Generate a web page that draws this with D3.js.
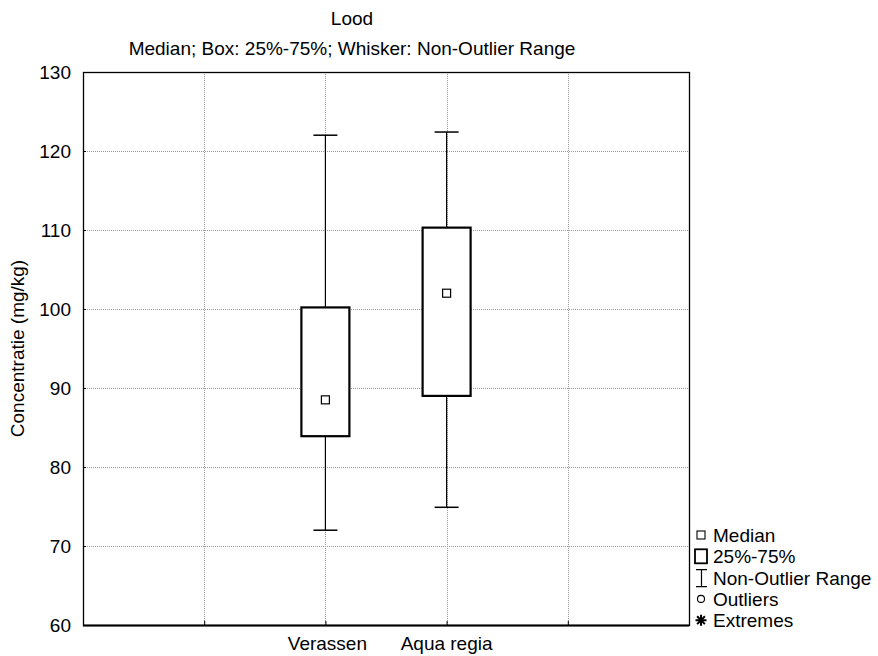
<!DOCTYPE html>
<html>
<head>
<meta charset="utf-8">
<script src="https://cdn.jsdelivr.net/npm/d3@7"></script>
<style>
  body { margin: 0; background: #fff; }
  text { font-family: "Liberation Sans", Arial, sans-serif; fill: #000; }
</style>
</head>
<body>
<div id="main"></div>
<script>
// chart data
const categories = ['Verassen', 'Aqua regia'];
const whiskerLow = [72, 74.9];
const boxLow = [83.9, 89.0];
const medians = [88.5, 102.0];
const boxHigh = [100.2, 110.3];
const whiskerHigh = [122.0, 122.4];
const yTicks = [60, 70, 80, 90, 100, 110, 120, 130];
const legendLabels = ['Median', '25%-75%', 'Non-Outlier Range', 'Outliers', 'Extremes'];

function main() {
  const width = 878, height = 656;
  const margin = { left: 83, right: 189, top: 72, bottom: 31 };
  const fs = '19px';
  const svg = d3.select('#main').append('svg')
    .attr('width', width).attr('height', height);

  const x = d3.scaleLinear().domain([0, 5]).range([margin.left, width - margin.right]);
  const y = d3.scaleLinear().domain([60, 130]).range([height - margin.bottom, margin.top]);
  const xPos = i => x(i + 2);

  // grid lines
  const grid = svg.append('g').attr('stroke', '#999').attr('stroke-width', 1)
    .attr('stroke-dasharray', '1,1');
  grid.selectAll('.hg').data(yTicks.slice(1, -1)).enter().append('line')
    .attr('x1', x(0)).attr('x2', x(5))
    .attr('y1', d => Math.round(y(d)) + 0.5).attr('y2', d => Math.round(y(d)) + 0.5);
  grid.selectAll('.vg').data([1, 2, 3, 4]).enter().append('line')
    .attr('y1', y(60)).attr('y2', y(130))
    .attr('x1', d => Math.round(x(d)) + 0.5).attr('x2', d => Math.round(x(d)) + 0.5);

  // axes
  const yAxis = svg.append('g').attr('transform', `translate(${x(0)},0)`)
    .call(d3.axisLeft(y).tickValues(yTicks).tickSize(-3).tickPadding(12));
  yAxis.select('.domain').remove();
  yAxis.selectAll('text').style('font-size', fs).attr('font-family', null);
  const xAxis = svg.append('g').attr('transform', `translate(0,${y(60)})`)
    .call(d3.axisBottom(x).tickValues([1, 2, 3, 4]).tickSize(-4).tickFormat(''));
  xAxis.select('.domain').remove();

  // frame
  svg.append('rect')
    .attr('x', x(0) + 0.5).attr('y', y(130) + 0.5)
    .attr('width', x(5) - x(0)).attr('height', y(60) - y(130))
    .attr('fill', 'none').attr('stroke', '#000').attr('stroke-width', 1.3);
  svg.append('line').attr('x1', x(0)).attr('x2', x(5))
    .attr('y1', y(60) + 0.5).attr('y2', y(60) + 0.5)
    .attr('stroke', '#000').attr('stroke-width', 2);

  // category labels
  svg.selectAll('.cat').data(categories).enter().append('text')
    .attr('x', (d, i) => xPos(i) + (i === 0 ? 2 : 0)).attr('y', 650)
    .attr('text-anchor', 'middle').style('font-size', fs)
    .text(d => d);

  // boxes
  const boxW = 48, capW = 24, medS = 8;
  const g = svg.append('g');
  categories.forEach((c, i) => {
    const cx = xPos(i);
    g.append('line').attr('x1', cx).attr('x2', cx)
      .attr('y1', y(whiskerLow[i])).attr('y2', y(whiskerHigh[i]))
      .attr('stroke', '#000').attr('stroke-width', 1.2);
    [whiskerLow[i], whiskerHigh[i]].forEach(v => {
      g.append('line').attr('x1', cx - capW / 2).attr('x2', cx + capW / 2)
        .attr('y1', y(v)).attr('y2', y(v))
        .attr('stroke', '#000').attr('stroke-width', 1.5);
    });
    g.append('rect').attr('x', cx - boxW / 2).attr('y', y(boxHigh[i]))
      .attr('width', boxW).attr('height', y(boxLow[i]) - y(boxHigh[i]))
      .attr('fill', '#fff').attr('stroke', '#000').attr('stroke-width', 2.2);
    g.append('rect').attr('x', cx - medS / 2).attr('y', y(medians[i]) - medS / 2)
      .attr('width', medS).attr('height', medS)
      .attr('fill', '#fff').attr('stroke', '#000').attr('stroke-width', 1.2);
  });

  // titles
  svg.append('text').attr('x', 352).attr('y', 25).attr('text-anchor', 'middle')
    .style('font-size', fs).text('Lood');
  svg.append('text').attr('x', 352).attr('y', 55).attr('text-anchor', 'middle')
    .style('font-size', fs).text('Median; Box: 25%-75%; Whisker: Non-Outlier Range');
  svg.append('text')
    .attr('transform', `translate(24,${(y(60) + y(130)) / 2}) rotate(-90)`)
    .attr('text-anchor', 'middle').style('font-size', fs)
    .text('Concentratie (mg/kg)');

  // legend
  const leg = svg.append('g').attr('transform', 'translate(701,0)');
  const rowY = i => 535 + i * 21.3;
  legendLabels.forEach((t, i) => {
    leg.append('text').attr('x', 12).attr('y', rowY(i) + 7)
      .style('font-size', fs).text(t);
  });
  leg.append('rect').attr('x', -4).attr('y', rowY(0) - 4).attr('width', 8).attr('height', 8)
    .attr('fill', 'none').attr('stroke', '#000').attr('stroke-width', 1.1);
  leg.append('rect').attr('x', -6).attr('y', rowY(1) - 7).attr('width', 12).attr('height', 14)
    .attr('fill', 'none').attr('stroke', '#000').attr('stroke-width', 1.8);
  leg.append('path')
    .attr('d', `M-5,${rowY(2) - 8}H6M0.5,${rowY(2) - 8}V${rowY(2) + 9}M-5,${rowY(2) + 9}H6`)
    .attr('stroke', '#000').attr('stroke-width', 1.2).attr('fill', 'none');
  leg.append('circle').attr('cx', 0).attr('cy', rowY(3)).attr('r', 3.5)
    .attr('fill', 'none').attr('stroke', '#000').attr('stroke-width', 1.1);
  // asterisk marker for extremes
  const ay = rowY(4), ar = 5.5;
  leg.append('path')
    .attr('d', [0, 45, 90, 135].map(a => {
      const r = a * Math.PI / 180;
      const dx = ar * Math.cos(r), dy = ar * Math.sin(r);
      return `M${-dx},${ay - dy}L${dx},${ay + dy}`;
    }).join(''))
    .attr('stroke', '#000').attr('stroke-width', 2).attr('fill', 'none');
}
document.addEventListener('DOMContentLoaded', main);
</script>
</body>
</html>
